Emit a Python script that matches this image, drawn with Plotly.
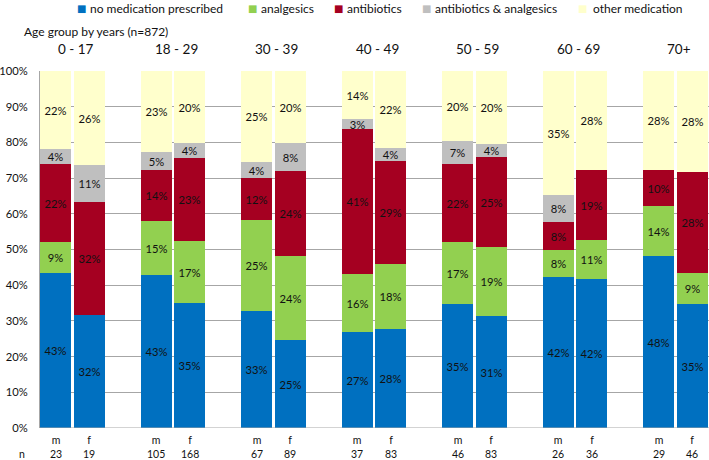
import plotly.graph_objects as go

# ---------------- data ----------------
age_groups = ["0 - 17", "18 - 29", "30 - 39", "40 - 49", "50 - 59", "60 - 69", "70+"]
sexes = ["m", "f"]
n_counts = [23, 19, 105, 168, 67, 89, 37, 83, 46, 83, 26, 36, 29, 46]

series_names = ["no medication prescribed", "analgesics", "antibiotics",
                 "antibiotics & analgesics", "other medication"]
no_medication = [43.48, 31.6, 42.9, 35.1, 32.8, 24.7, 27.0, 27.7, 34.8, 31.3, 42.3, 41.7, 48.3, 34.8]
analgesics = [8.7, 0, 15.2, 17.3, 25.4, 23.6, 16.2, 18.1, 17.4, 19.3, 7.7, 11.1, 13.8, 8.7]
antibiotics = [21.7, 31.6, 14.3, 23.2, 11.9, 23.6, 40.54, 28.9, 21.7, 25.3, 7.7, 19.4, 10.3, 28.3]
antib_analg = [4.3, 10.53, 4.8, 4.2, 4.48, 7.9, 2.7, 3.6, 6.52, 3.6, 7.7, 0, 0, 0]
other_medication = [21.7, 26.3, 22.9, 20.2, 25.4, 20.2, 13.51, 21.7, 19.6, 20.48, 34.6, 27.8, 27.6, 28.3]
y_ticks = [0, 10, 20, 30, 40, 50, 60, 70, 80, 90, 100]

series_values = [no_medication, analgesics, antibiotics, antib_analg, other_medication]
colors = ["#0070C0", "#92D050", "#A50021", "#BFBFBF", "#FFFFCC"]

# slot positions: m, f, gap per age group
x_pos = []
sex_labels = []
for g in range(len(age_groups)):
    for s, sx in enumerate(sexes):
        x_pos.append(3 * g + s)
        sex_labels.append(sx)

FONT = "Lato, 'Open Sans', sans-serif"

fig = go.Figure()
for name, vals, col in zip(series_names, series_values, colors):
    fig.add_trace(go.Bar(
        x=x_pos, y=vals, name=name, marker=dict(color=col, line=dict(width=0)),
        width=0.94,
        texttemplate=["" if v == 0 else "%{y:.0f}%" for v in vals],
        textposition="inside", insidetextanchor="middle", textangle=0,
        constraintext="none",
        textfont=dict(family=FONT, size=11.2, color="#111"),
        showlegend=False, hoverinfo="name+y",
    ))

W, H = 709, 460
L, R, T, B = 40, 0, 71, 32
pw = W - L - R


def px2paper(px):
    return (px - L) / pw


ann = []
# legend (top)
sq_centers = [81.5, 252, 338.5, 426, 582]
txt_starts = [88, 259, 345, 433, 591]
for name, col, sc, ts in zip(series_names, colors, sq_centers, txt_starts):
    ann.append(dict(xref="paper", yref="paper", x=px2paper(sc), y=1, yshift=63,
                    xanchor="center", yanchor="middle", showarrow=False,
                    text="■", font=dict(family="DejaVu Sans", size=10, color=col)))
    ann.append(dict(xref="paper", yref="paper", x=px2paper(ts), y=1, yshift=63,
                    xanchor="left", yanchor="middle", showarrow=False,
                    text=name, font=dict(family=FONT, size=12, color="#111")))
# header
ann.append(dict(xref="paper", yref="paper", x=px2paper(21.7), y=1, yshift=40,
                xanchor="left", yanchor="middle", showarrow=False,
                text="Age group by years (n=872)", font=dict(family=FONT, size=12, color="#111")))
for g, lab in enumerate(age_groups):
    ann.append(dict(xref="x", yref="paper", x=3 * g + 0.5, y=1, yshift=22, xshift=3,
                    xanchor="center", yanchor="middle", showarrow=False,
                    text=lab, font=dict(family=FONT, size=13.5, color="#111")))
# bottom m/f and n (stacked in one text)
for xp, sx, nc in zip(x_pos, sex_labels, n_counts):
    ann.append(dict(xref="x", yref="paper", x=xp, y=0, yshift=-18.5,
                    xanchor="center", yanchor="middle", showarrow=False,
                    text=f"{sx}<br>{nc}", font=dict(family=FONT, size=10.5, color="#111")))
ann.append(dict(xref="paper", yref="paper", x=px2paper(22), y=0, yshift=-25.5,
                xanchor="center", yanchor="middle", showarrow=False,
                text="n", font=dict(family=FONT, size=10.5, color="#111")))

fig.update_layout(
    width=W, height=H,
    margin=dict(l=L, r=R, t=T, b=B, pad=0),
    barmode="stack", bargap=0,
    plot_bgcolor="white", paper_bgcolor="white",
    font=dict(family=FONT, color="#111"),
    annotations=ann,
    xaxis=dict(range=[-0.47, 19.5], showticklabels=False, showgrid=False,
               zeroline=False, showline=False, ticks=""),
    yaxis=dict(range=[0, 100], tickvals=y_ticks, ticktext=[f"{v}%" for v in y_ticks],
               showgrid=True, gridcolor="#A6A6A6", gridwidth=1,
               zeroline=False, showline=True, linecolor="#A6A6A6", linewidth=1,
               ticks="", ticklabelstandoff=9,
               tickfont=dict(family=FONT, size=11.2, color="#111")),
)
fig.add_hline(y=0, line=dict(color="#A6A6A6", width=1))

fig.write_html("out.html", config={"displayModeBar": False},
               post_script="document.body.style.margin='0';document.body.style.overflow='hidden';")
